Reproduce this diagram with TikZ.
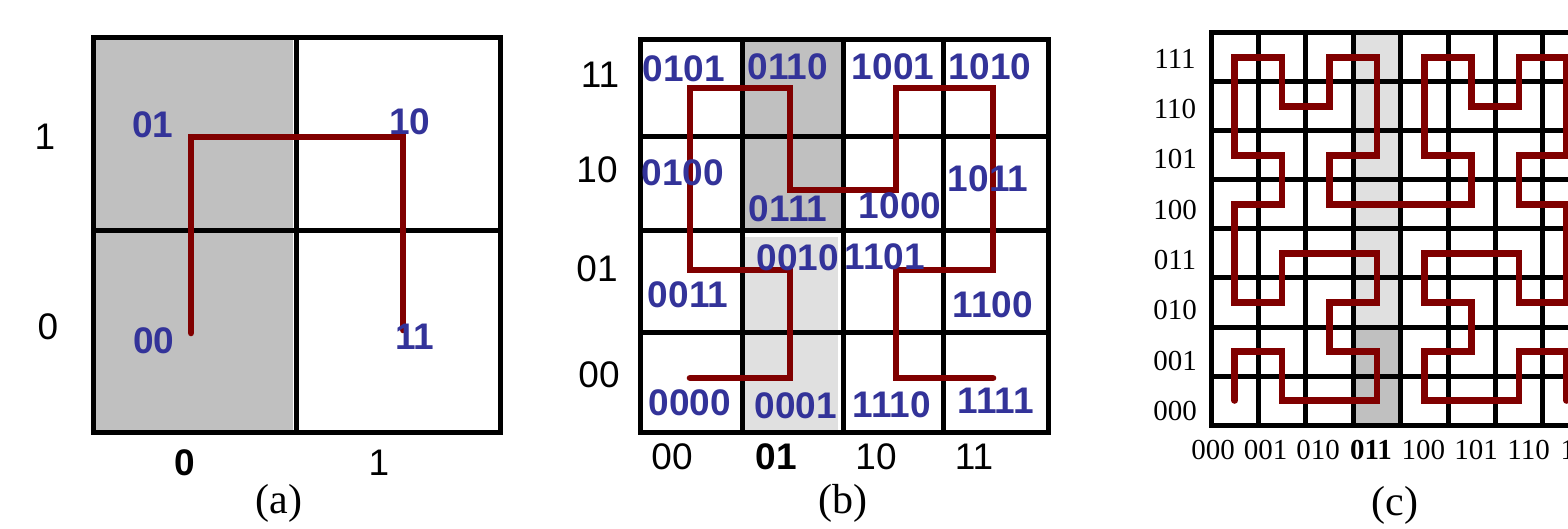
\documentclass[tikz,border=0pt]{standalone}
\usepackage{fontspec}
\setmainfont{Liberation Serif}
\setsansfont{Liberation Sans}
\usepackage{xcolor}
\usepackage{tikz}

\definecolor{curvered}{RGB}{128,0,0}
\definecolor{codeblue}{RGB}{51,51,153}
\definecolor{darkcell}{RGB}{192,192,192}
\definecolor{lightcell}{RGB}{224,224,224}

\begin{document}
\begin{tikzpicture}[x=0.5pt,y=-0.5pt]
      \tikzstyle{gridline} = [draw=black, line width=2.5pt, line cap=rect]
      \tikzstyle{curve} = [draw=curvered, line width=3.3pt,
                           line cap=round, line join=miter]
      \tikzstyle{code} = [inner sep=0pt, text=codeblue,
                          font=\fontsize{18.5pt}{20pt}\selectfont\sffamily\bfseries]
      \tikzstyle{axis} = [inner sep=0pt,
                          font=\fontsize{18.5pt}{20pt}\selectfont\sffamily]
      \tikzstyle{axisbold} = [axis,
                          font=\fontsize{18.5pt}{20pt}\selectfont\sffamily\bfseries]
      \tikzstyle{bits} = [inner sep=0pt, font=\fontsize{14.5pt}{16pt}\selectfont]
      \tikzstyle{bitsbold} = [bits, font=\fontsize{14.5pt}{16pt}\selectfont\bfseries]
      \tikzstyle{caption} = [inner sep=0pt, font=\fontsize{21pt}{23pt}\selectfont]

      \useasboundingbox (0,0) rectangle (1568,529);
      \clip (0,0) rectangle (1568,529);

      % (a)
      \fill[darkcell] (93,38) rectangle (293,432);
      \draw[gridline] (93,38) rectangle (500,432);
      \draw[gridline] (296,38) -- (296,432);
      \draw[gridline] (93,231) -- (500,231);
      \draw[curve] (191,333) -- (191,137) -- (403,137) -- (403,330);

      \node[code] (a01) at (153,125) {01};
      \node[code] (a10) at (410,122) {10};
      \node[code] (a00) at (154,341) {00};
      \node[code] (a11) at (415,337) {11};
      \node[axis] (ar1) at (45,137) {1};
      \node[axis] (ar0) at (48,327) {0};
      \node[axisbold] (ac0) at (185,463) {0};
      \node[axis] (ac1) at (379,463) {1};
      \node[caption] (capa) at (279,503) {(a)};

      % (b)
      \fill[darkcell] (742,40) rectangle (843,231);
      \fill[lightcell] (744,237) rectangle (838,432);
      \draw[gridline] (640,40) rectangle (1048,432);
      \foreach \x in {742,843,943}
        \draw[gridline] (\x,40) -- (\x,432);
      \foreach \y in {137,231,332}
        \draw[gridline] (640,\y) -- (1048,\y);
      \draw[curve] (690,378) -- (790,378) -- (790,270) -- (690,270)
                   -- (690,88) -- (790,88) -- (790,190) -- (896,190)
                   -- (896,88) -- (993,88) -- (993,270) -- (896,270)
                   -- (896,378) -- (993,378);

      \foreach \t/\x/\y in {0101/684/69, 0110/788/67, 1001/893/67, 1010/990/67,
                            0100/683/173, 0111/788/209, 1000/900/206, 1011/988/179,
                            0010/798/258, 1101/885/257, 0011/688/295, 1100/993/305,
                            0000/690/403, 0001/796/406, 1110/892/405, 1111/996/401}
        \node[code] (b\t) at (\x,\y) {\t};
      \node[axis] (br11) at (600,75) {11};
      \node[axis] (br10) at (597,170) {10};
      \node[axis] (br01) at (597,269) {01};
      \node[axis] (br00) at (599,375) {00};
      \node[axis] (bc00) at (672,457) {00};
      \node[axisbold] (bc01) at (776,457) {01};
      \node[axis] (bc10) at (876,457) {10};
      \node[axis] (bc11) at (974,457) {11};
      \node[caption] (capb) at (843,503) {(b)};

      % (c)
      \fill[lightcell] (1353,33) rectangle (1401,327);
      \fill[darkcell] (1353,327) rectangle (1401,425);
      \begin{scope}[shift={(1211,425)}, x=23.7pt, y=24.5pt]
        \foreach \i in {0,...,8}
          \draw[gridline] (\i,0) -- (\i,8);
        \foreach \j in {0,...,8}
          \draw[gridline] (0,\j) -- (8,\j);
        \draw[curve, shift={(0.5,0.5)}]
          (0,0) -- (0,1) -- (1,1) -- (1,0) -- (2,0) -- (3,0) -- (3,1) -- (2,1)
          -- (2,2) -- (3,2) -- (3,3) -- (2,3) -- (1,3) -- (1,2) -- (0,2) -- (0,3)
          -- (0,4) -- (1,4) -- (1,5) -- (0,5) -- (0,6) -- (0,7) -- (1,7) -- (1,6)
          -- (2,6) -- (2,7) -- (3,7) -- (3,6) -- (3,5) -- (2,5) -- (2,4) -- (3,4)
          -- (4,4) -- (5,4) -- (5,5) -- (4,5) -- (4,6) -- (4,7) -- (5,7) -- (5,6)
          -- (6,6) -- (6,7) -- (7,7) -- (7,6) -- (7,5) -- (6,5) -- (6,4) -- (7,4)
          -- (7,3) -- (7,2) -- (6,2) -- (6,3) -- (5,3) -- (4,3) -- (4,2) -- (5,2)
          -- (5,1) -- (4,1) -- (4,0) -- (5,0) -- (6,0) -- (6,1) -- (7,1) -- (7,0);
      \end{scope}

      \foreach \t [count=\j from 0] in {000,001,010,011,100,101,110,111}
        \node[bits] (cr\t) at (1175,411-50.3*\j) {\t};
      \foreach \t/\i in {000/0,001/1,010/2,100/4,101/5,110/6,111/7}
        \node[bits] (cc\t) at (1213+52.6*\i,450) {\t};
      \node[bitsbold] (cc011) at (1371,450) {011};
      \node[caption] (capc) at (1395,505) {(c)};
\end{tikzpicture}
\end{document}
